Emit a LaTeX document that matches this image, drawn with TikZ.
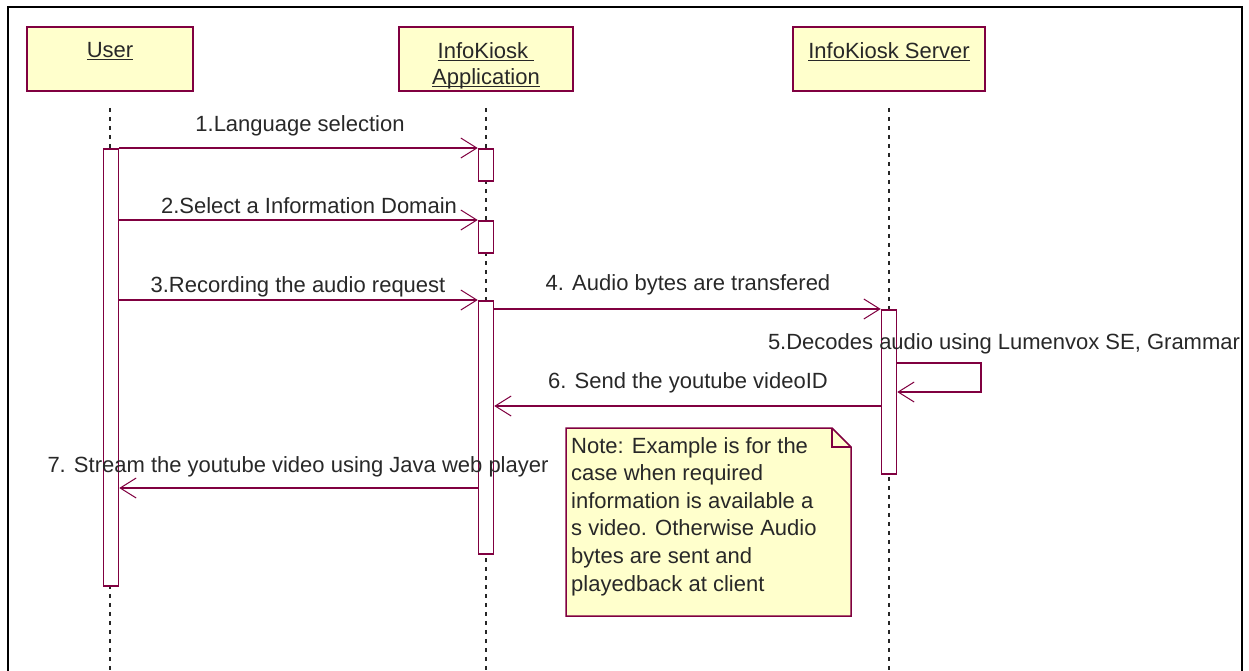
\documentclass[tikz,border=0pt]{standalone}
\usepackage{fontspec}
\setmainfont{Liberation Sans}
\usetikzlibrary{arrows.meta,positioning,calc}
\definecolor{umlMaroon}{RGB}{128,0,64}
\definecolor{umlYellow}{RGB}{255,255,204}
\definecolor{umlText}  {RGB}{40,40,40}

% object names: underline sits just under the baseline, descenders ignored
\newcommand{\objname}[1]{\begingroup\setbox0\hbox{#1}\dp0=0pt\underline{\box0}\endgroup}

\tikzset{
  actor/.style={draw=umlMaroon,fill=umlYellow,line width=1.5pt,
                minimum height=64pt,inner sep=0pt},
  actorname/.style={font=\fontsize{22}{26}\selectfont,text=umlText,
                align=center,inner sep=2pt,anchor=north},
  lifeline/.style={black!85,line width=1.4pt,dash pattern=on 4.5pt off 4.5pt},
  activation/.style={draw=umlMaroon,fill=white,line width=1.5pt,
                minimum width=15pt,inner sep=0pt,anchor=north},
  msg/.style={umlMaroon,line width=1.5pt,
                -{Straight Barb[length=16pt,width=20pt,line width=1pt]}},
  msglabel/.style={font=\fontsize{22}{25}\selectfont,text=umlText,inner sep=0pt},
}

\begin{document}
\begin{tikzpicture}[x=1pt,y=-1pt]
    \useasboundingbox (0,0) rectangle (1249,670);

    % ════════ frame ════════
    \draw[line width=2.5pt] (8,675) -- (8,7) -- (1242,7) -- (1242,675);

    % ════════ objects along the top ════════
    \foreach \id/\x/\w in {user/110/166, app/486/174, srv/889/192}{
      \node[actor,minimum width=\w pt] (\id) at (\x,59) {};
      % dashed lifeline
      \draw[lifeline] ([yshift=-16pt]\id.south) -- (\id.south |- 0,672);
    }
    \node[actorname] (user-name) at ([yshift=-14pt]user.north) {\objname{User}};
    \node[actorname] (app-name)  at ([yshift=-14pt]app.north)
      {\objname{InfoKiosk\ }\\\objname{Application}};
    \node[actorname] (srv-name)  at ([yshift=-14pt]srv.north) {\objname{InfoKiosk Server}};

    % ════════ activation bars ════════
    \node[activation,minimum height=437pt] (userbar) at (111,148) {};
    \node[activation,minimum height=32pt]  (act1)    at (486,148) {};
    \node[activation,minimum height=32pt]  (act2)    at (486,220) {};
    \node[activation,minimum height=253pt] (act3)    at (486,300) {};
    \node[activation,minimum height=164pt] (srvbar)  at (889,309) {};

    % ════════ messages ════════
    \draw[msg] (userbar.north east) -- (act1.north west);
    \node[msglabel] (lbl1) at (300,126) {1.Language selection};

    \draw[msg] (userbar.east |- act2.north) -- (act2.north west);
    \node[msglabel] (lbl2) at (309,206) {2.Select a Information Domain};

    \draw[msg] (userbar.east |- act3.north) -- (act3.north west);
    \node[msglabel] (lbl3) at (298,287) {3.Recording the audio request};

    \draw[msg] (act3.east |- srvbar.north) -- (srvbar.north west);
    \node[msglabel] (lbl4) at (688,285) {4. Audio bytes are transfered};

    % self call on the server
    \coordinate (loopTop) at (981,363);
    \coordinate (loopBot) at (981,392);
    \draw[msg] (srvbar.east |- loopTop) -- (loopTop) -- (loopBot)
      -- (srvbar.east |- loopBot);
    \node[msglabel] (lbl5) at (1004,344) {5.Decodes audio using Lumenvox SE, Grammar};

    \coordinate (ret6) at (0,406);
    \draw[msg] (srvbar.west |- ret6) -- (act3.east |- ret6);
    \node[msglabel] (lbl6) at (688,383) {6. Send the youtube videoID};

    \coordinate (ret7) at (0,488);
    \draw[msg] (act3.west |- ret7) -- (userbar.east |- ret7);
    \node[msglabel] (lbl7) at (298,467) {7. Stream the youtube video using Java web player};

    % ════════ note with folded corner ════════
    \draw[umlMaroon,fill=umlYellow,line width=1.5pt]
      (566,428) -- (832,428) -- (851,447) -- (851,616) -- (566,616) -- cycle;
    \draw[umlMaroon,line width=1.5pt] (832,428) -- (832,447) -- (851,447);
    \node[msglabel,anchor=north west,align=left,font=\fontsize{22}{27.6}\selectfont]
      (note) at (571,437)
      {Note: Example is for the\\case when required\\information is available a\\
       s video. Otherwise Audio\\bytes are sent and\\playedback at client};

\end{tikzpicture}
\end{document}
